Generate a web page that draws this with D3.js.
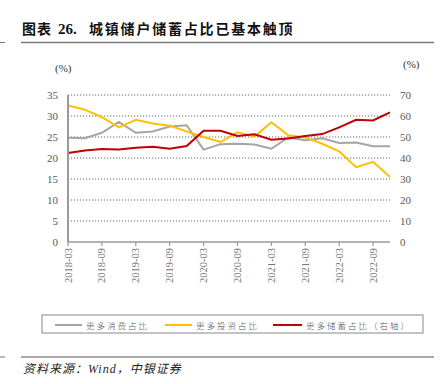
<!DOCTYPE html>
<html>
<head>
<meta charset="utf-8">
<script src="https://cdn.jsdelivr.net/npm/d3@7"></script>
<style>
  body { margin: 0; background: #fff; }
  svg { display: block; }
</style>
</head>
<body>
<script>
// Quarterly survey results, 2018-03 .. 2022-12
var quarters = ["2018-03","2018-06","2018-09","2018-12","2019-03","2019-06","2019-09","2019-12",
                "2020-03","2020-06","2020-09","2020-12","2021-03","2021-06","2021-09","2021-12",
                "2022-03","2022-06","2022-09","2022-12"];
var consume = [24.8,24.7,26.0,28.6,26.0,26.3,27.5,27.8,22.0,23.3,23.4,23.2,22.2,24.9,24.2,24.7,23.6,23.7,22.8,22.8];
var invest  = [32.5,31.5,29.7,27.3,29.1,28.2,27.7,26.3,25.0,23.8,26.1,25.1,28.5,25.4,24.9,23.4,21.6,17.8,19.1,15.5];
var save    = [42.4,43.6,44.3,44.0,44.9,45.4,44.4,45.7,53.0,53.0,50.5,51.3,48.7,49.3,50.5,51.4,54.6,58.2,57.9,61.7];
var tickQuarters = ["2018-03","2018-09","2019-03","2019-09","2020-03","2020-09","2021-03","2021-09","2022-03","2022-09"];
var leftTicks = [0,5,10,15,20,25,30,35];
var rightTicks = [0,10,20,30,40,50,60,70];

var width = 441, height = 384;
var plotLeft = 68, plotRight = 390, plotTop = 95, plotBottom = 242;
var cjk = "'Noto Sans CJK SC', sans-serif";
var serif = "'Liberation Serif', serif";
var axisGray = "#595959";

var svg = d3.select("body").append("svg")
    .attr("width", width)
    .attr("height", height);

// title + rules
var title = svg.append("text")
    .attr("y", 34)
    .attr("font-weight", "bold")
    .attr("font-size", "14px")
    .attr("fill", "#111");
title.append("tspan").attr("x", 22).attr("font-family", cjk)
    .attr("letter-spacing", "1px").text("图表");
title.append("tspan").attr("x", 58).attr("font-family", serif)
    .attr("font-size", "15px").text("26.");
title.append("tspan").attr("x", 89).attr("font-family", cjk)
    .attr("letter-spacing", "1.8px").text("城镇储户储蓄占比已基本触顶");

svg.append("line").attr("x1", 21).attr("x2", 434).attr("y1", 42.5).attr("y2", 42.5)
    .attr("stroke", "#777").attr("stroke-width", 1.5);
svg.append("line").attr("x1", 0).attr("x2", 5).attr("y1", 42.5).attr("y2", 42.5)
    .attr("stroke", "#777").attr("stroke-width", 1);

var x = d3.scalePoint().domain(quarters).range([plotLeft, plotRight]);
var yL = d3.scaleLinear().domain([0, 35]).range([plotBottom, plotTop]);
var yR = d3.scaleLinear().domain([0, 70]).range([plotBottom, plotTop]);

// dotted gridlines
svg.append("g").selectAll("line")
    .data(leftTicks.filter(d => d > 0))
    .enter().append("line")
    .attr("x1", plotLeft).attr("x2", plotRight)
    .attr("y1", d => yL(d)).attr("y2", d => yL(d))
    .attr("stroke", "#666")
    .attr("stroke-width", 1)
    .attr("stroke-dasharray", "1.2,1.8");

// left axis labels
svg.append("g").selectAll("text")
    .data(leftTicks).enter().append("text")
    .attr("x", 58).attr("y", d => yL(d) + 4)
    .attr("text-anchor", "end")
    .attr("font-family", serif)
    .attr("font-size", "11px")
    .attr("fill", axisGray)
    .text(d => d);

// right axis labels
svg.append("g").selectAll("text")
    .data(rightTicks).enter().append("text")
    .attr("x", 400).attr("y", d => yR(d) + 4)
    .attr("font-family", serif)
    .attr("font-size", "11px")
    .attr("fill", axisGray)
    .text(d => d);

svg.append("text").attr("x", 55).attr("y", 72)
    .attr("font-family", serif).attr("font-size", "11px")
    .attr("fill", "#333").text("(%)");
svg.append("text").attr("x", 403).attr("y", 68)
    .attr("font-family", serif).attr("font-size", "11px")
    .attr("fill", "#333").text("(%)");

// x ticks and rotated labels
var xt = svg.append("g").selectAll("g")
    .data(tickQuarters).enter().append("g")
    .attr("transform", d => "translate(" + x(d) + "," + plotBottom + ")");
xt.append("line").attr("y1", 0).attr("y2", 4).attr("stroke", "#999").attr("stroke-width", 1.2);
xt.append("text")
    .attr("transform", "translate(3.5,6) rotate(-90)")
    .attr("text-anchor", "end")
    .attr("font-family", serif)
    .attr("font-size", "10.5px")
    .attr("fill", "#777")
    .text(d => d);

// series lines
var lineL = d3.line().x((d, i) => x(quarters[i])).y(d => yL(d));
var lineR = d3.line().x((d, i) => x(quarters[i])).y(d => yR(d));

svg.append("path").datum(consume).attr("d", lineL)
    .attr("fill", "none").attr("stroke", "#A5A5A5").attr("stroke-width", 2);
svg.append("path").datum(invest).attr("d", lineL)
    .attr("fill", "none").attr("stroke", "#FFC000").attr("stroke-width", 2);
svg.append("path").datum(save).attr("d", lineR)
    .attr("fill", "none").attr("stroke", "#C00000").attr("stroke-width", 2);

// left axis and bottom axis lines
svg.append("line").attr("x1", plotLeft).attr("x2", plotLeft).attr("y1", plotTop).attr("y2", plotBottom)
    .attr("stroke", "#999").attr("stroke-width", 2);
svg.append("line").attr("x1", plotLeft).attr("x2", plotRight).attr("y1", plotBottom).attr("y2", plotBottom)
    .attr("stroke", "#999").attr("stroke-width", 1.5);

// legend
svg.append("rect").attr("x", 42).attr("y", 315).attr("width", 381).attr("height", 18)
    .attr("fill", "none").attr("stroke", "#888").attr("stroke-width", 1);
var legendItems = [
  {name: "更多消费占比", color: "#A5A5A5", x0: 55, x1: 82},
  {name: "更多投资占比", color: "#FFC000", x0: 165, x1: 192},
  {name: "更多储蓄占比（右轴）", color: "#C00000", x0: 273, x1: 302}
];
var lg = svg.append("g").selectAll("g").data(legendItems).enter().append("g");
lg.append("line").attr("x1", d => d.x0).attr("x2", d => d.x1)
    .attr("y1", 325).attr("y2", 325)
    .attr("stroke", d => d.color).attr("stroke-width", 2);
lg.append("text").attr("x", d => d.x1 + 4).attr("y", 328.5)
    .attr("font-family", cjk).attr("font-weight", 300)
    .attr("font-size", "8.5px").attr("fill", "#555")
    .attr("letter-spacing", "2px")
    .text(d => d.name);

// source line
svg.append("line").attr("x1", 21).attr("x2", 434).attr("y1", 357).attr("y2", 357)
    .attr("stroke", "#555").attr("stroke-width", 1);
svg.append("line").attr("x1", 0).attr("x2", 5).attr("y1", 357).attr("y2", 357)
    .attr("stroke", "#777").attr("stroke-width", 1);
svg.append("text").attr("x", 23).attr("y", 373)
    .attr("font-family", "'Liberation Serif', " + cjk)
    .attr("font-style", "italic")
    .attr("font-size", "12px").attr("fill", "#222")
    .attr("letter-spacing", "1px")
    .text("资料来源：Wind，中银证券");
</script>
</body>
</html>
